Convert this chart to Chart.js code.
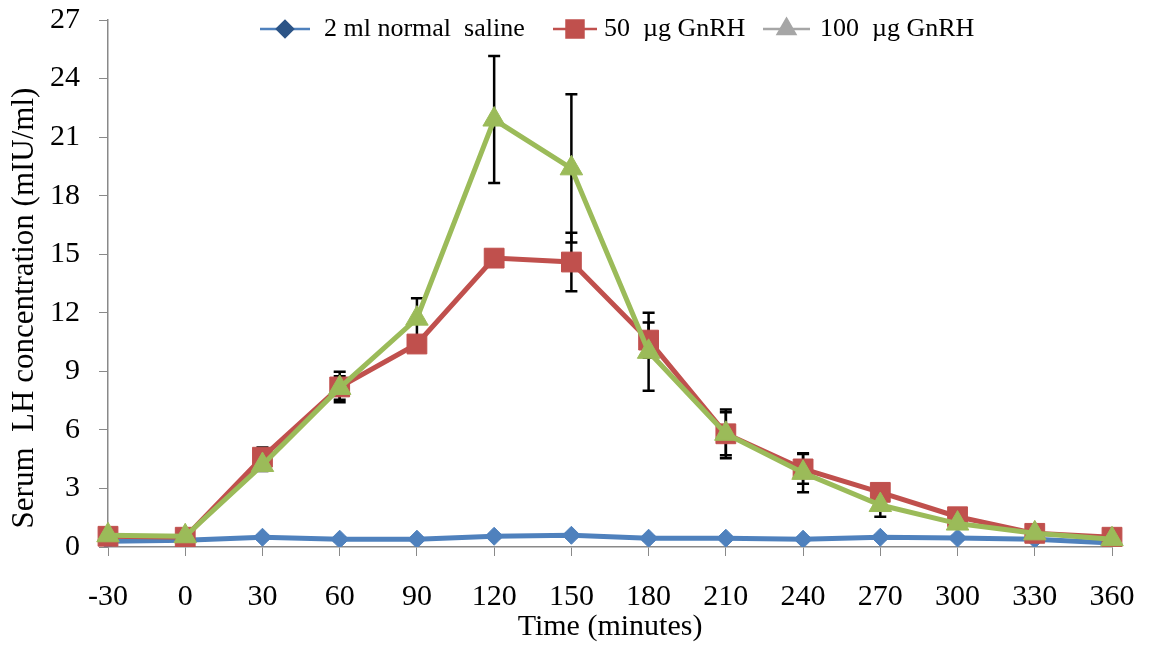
<!DOCTYPE html>
<html>
<head>
<meta charset="utf-8">
<script src="https://cdn.jsdelivr.net/npm/chart.js@4.4.1/dist/chart.umd.min.js"></script>
<style>
  html, body { margin: 0; padding: 0; background: #ffffff; }
  canvas { display: block; }
</style>
</head>
<body>
<canvas id="lhChart" width="1152" height="647"></canvas>
<script>
// Sampling times (minutes relative to injection)
const timeLabels = ['-30', '0', '30', '60', '90', '120', '150', '180', '210', '240', '270', '300', '330', '360'];

// Mean serum LH (mIU/ml) per treatment
const salineLH  = [0.30, 0.35, 0.50, 0.40, 0.40, 0.55, 0.60, 0.45, 0.45, 0.40, 0.50, 0.46, 0.40, 0.20];
const gnrh50LH  = [0.55, 0.50, 4.60, 8.20, 10.40, 14.80, 14.60, 10.60, 5.80, 4.00, 2.80, 1.55, 0.70, 0.50];
const gnrh100LH = [0.60, 0.55, 4.20, 8.15, 11.70, 21.90, 19.40, 10.00, 5.80, 3.80, 2.15, 1.20, 0.70, 0.40];

// Standard errors
const salineSE  = [0.10, 0.10, 0.10, 0.10, 0.10, 0.10, 0.10, 0.10, 0.10, 0.10, 0.10, 0.10, 0.10, 0.10];
const gnrh50SE  = [0.10, 0.10, 0.50, 0.78, 0.40, 0.40, 1.50, 0.90, 1.25, 0.76, 0.30, 0.20, 0.10, 0.10];
const gnrh100SE = [0.10, 0.10, 0.30, 0.60, 1.05, 3.25, 3.80, 2.00, 1.10, 1.00, 0.60, 0.20, 0.10, 0.10];

// Y axis tick values
const yTicks = [0, 3, 6, 9, 12, 15, 18, 21, 24, 27];

const seriesNames = ['2 ml normal  saline', '50  \u00b5g GnRH', '100  \u00b5g GnRH'];

const FONT = "'Liberation Serif', 'Times New Roman', serif";
const AXIS_GRAY = '#898989';

// Vertical error bars drawn underneath the series
const errorBarPlugin = {
  id: 'errorBars',
  beforeDatasetsDraw(chart) {
    const ctx = chart.ctx;
    const yScale = chart.scales.y;
    ctx.save();
    ctx.strokeStyle = '#000000';
    ctx.lineWidth = 2.5;
    chart.data.datasets.forEach((ds, i) => {
      const meta = chart.getDatasetMeta(i);
      meta.data.forEach((pt, j) => {
        const err = ds.errors[j];
        if (!err) return;
        const v = ds.data[j];
        const yTop = yScale.getPixelForValue(v + err);
        const yBot = yScale.getPixelForValue(v - err);
        const x = pt.x;
        const cap = 6;
        ctx.beginPath();
        ctx.moveTo(x, yTop); ctx.lineTo(x, yBot);
        ctx.moveTo(x - cap, yTop); ctx.lineTo(x + cap, yTop);
        ctx.moveTo(x - cap, yBot); ctx.lineTo(x + cap, yBot);
        ctx.stroke();
      });
    });
    ctx.restore();
  }
};

// Legend row across the top of the plot: short line with its marker, then the name
const legendEntries = [
  { x: 260, symW: 50, gap: 14, line: '#4F81BD', marker: '#2C5486', style: 'rectRot', radius: 8 },
  { x: 553, symW: 44, gap: 7,  line: '#C0504D', marker: '#C0504D', style: 'rect', radius: 12 },
  { x: 763, symW: 47, gap: 10, line: '#A6A6A6', marker: '#A6A6A6', style: 'triangle', radius: 10 }
];

const topLegendPlugin = {
  id: 'topLegend',
  afterDraw(chart) {
    const ctx = chart.ctx;
    const y = 29;
    ctx.save();
    ctx.font = '26px ' + FONT;
    seriesNames.forEach((name, i) => {
      const e = legendEntries[i];
      ctx.strokeStyle = e.line;
      ctx.lineWidth = 2.5;
      ctx.beginPath();
      ctx.moveTo(e.x, y); ctx.lineTo(e.x + e.symW, y);
      ctx.stroke();
      ctx.fillStyle = e.marker;
      ctx.strokeStyle = e.marker;
      Chart.helpers.drawPoint(ctx, { pointStyle: e.style, radius: e.radius, borderWidth: 1, rotation: 0 }, e.x + e.symW / 2, y);
      ctx.fillStyle = '#000000';
      ctx.textAlign = 'left';
      ctx.textBaseline = 'middle';
      ctx.fillText(name, e.x + e.symW + e.gap, y);
    });
    ctx.restore();
  }
};

// Rotated y axis title
const yTitlePlugin = {
  id: 'yTitle',
  afterDraw(chart) {
    const ctx = chart.ctx;
    ctx.save();
    ctx.translate(25, 308);
    ctx.rotate(-Math.PI / 2);
    ctx.font = '31px ' + FONT;
    ctx.fillStyle = '#000000';
    ctx.textAlign = 'center';
    ctx.textBaseline = 'middle';
    ctx.fillText('Serum  LH concentration (mIU/ml)', 0, 0);
    ctx.restore();
  }
};

new Chart(document.getElementById('lhChart'), {
  type: 'line',
  data: {
    labels: timeLabels,
    datasets: [
      {
        label: seriesNames[0],
        data: salineLH,
        errors: salineSE,
        borderColor: '#4F81BD',
        backgroundColor: '#4F81BD',
        borderWidth: 5,
        pointStyle: 'rectRot',
        pointRadius: 9,
        pointHoverRadius: 9,
        pointBorderWidth: 1,
        order: 3
      },
      {
        label: seriesNames[1],
        data: gnrh50LH,
        errors: gnrh50SE,
        borderColor: '#C0504D',
        backgroundColor: '#C0504D',
        borderWidth: 5,
        pointStyle: 'rect',
        pointRadius: 14,
        pointHoverRadius: 14,
        pointBorderWidth: 1,
        order: 2
      },
      {
        label: seriesNames[2],
        data: gnrh100LH,
        errors: gnrh100SE,
        borderColor: '#9BBB59',
        backgroundColor: '#9BBB59',
        borderWidth: 5,
        pointStyle: 'triangle',
        pointRadius: 13,
        pointHoverRadius: 13,
        pointBorderWidth: 1,
        order: 1
      }
    ]
  },
  options: {
    responsive: false,
    animation: false,
    devicePixelRatio: 1,
    layout: { padding: { top: 20, right: 40, bottom: 0, left: 0 } },
    plugins: {
      legend: { display: false },
      tooltip: { enabled: false }
    },
    elements: { line: { tension: 0 } },
    scales: {
      x: {
        type: 'category',
        offset: false,
        grid: {
          display: true,
          drawOnChartArea: false,
          drawTicks: true,
          tickLength: 9,
          offset: false,
          color: AXIS_GRAY
        },
        border: { display: true, color: AXIS_GRAY, width: 1.5 },
        ticks: {
          autoSkip: false,
          maxRotation: 0,
          padding: 14,
          color: '#000000',
          font: { family: FONT, size: 30, lineHeight: 1.8 }
        },
        title: {
          display: true,
          text: 'Time (minutes)',
          color: '#000000',
          font: { family: FONT, size: 30 },
          padding: { top: 0, bottom: 2 }
        },
        afterFit(scale) { scale.height = 100; }
      },
      y: {
        type: 'linear',
        min: 0,
        max: 27,
        grid: {
          display: true,
          drawOnChartArea: false,
          drawTicks: true,
          tickLength: 9,
          color: AXIS_GRAY
        },
        border: { display: true, color: AXIS_GRAY, width: 1.5 },
        ticks: {
          padding: 19,
          color: '#000000',
          font: { family: FONT, size: 30, lineHeight: 0.05 }
        },
        afterBuildTicks(scale) { scale.ticks = yTicks.map(v => ({ value: v })); },
        afterFit(scale) { scale.width = 108; }
      }
    }
  },
  plugins: [errorBarPlugin, topLegendPlugin, yTitlePlugin]
});
</script>
</body>
</html>
